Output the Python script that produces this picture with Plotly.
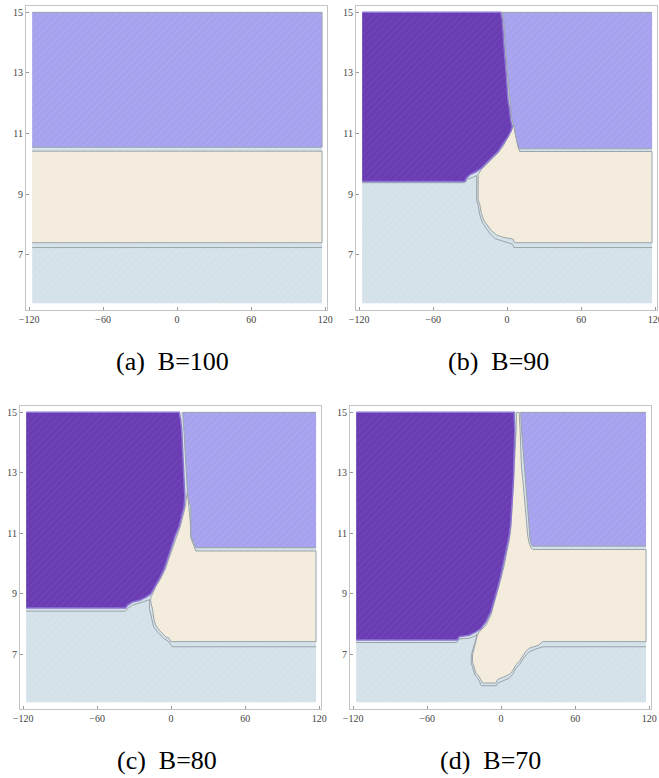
import plotly.graph_objects as go

# ---------------- data ----------------
X_MIN, X_MAX = -117.5, 117.5
Y_MIN, Y_MAX = 5.4, 15.0
X_TICKS = [-120, -60, 0, 60, 120]
Y_TICKS = [7, 9, 11, 13, 15]
CAPTIONS = ["(a)\u00a0\u00a0B=100", "(b)\u00a0\u00a0B=90", "(c)\u00a0\u00a0B=80", "(d)\u00a0\u00a0B=70"]

# panel (a) B=100
a_blue_top_x = [X_MIN, X_MAX]
a_blue_top_y = [7.24, 7.24]
a_beige_x = [X_MIN, X_MAX, X_MAX, X_MIN]
a_beige_y = [7.4, 7.4, 10.42, 10.42]
a_peri_x = [X_MIN, X_MAX, X_MAX, X_MIN]
a_peri_y = [10.55, 10.55, 15.0, 15.0]
a_purple_x = []
a_purple_y = []

# panel (b) B=90
b_purple_x = [X_MIN, -5.2, -3.9, -3.4, -2.3, -1.2, -0.1, 0.7, 2.0, 2.8, 4.2, 3.4, 0.7, -3.4,
              -7.4, -11.4, -16.8, -20.9, -24.9, -30.3, -33.0, -34.3, X_MIN]
b_purple_y = [15.0, 15.0, 14.75, 14.31, 13.76, 13.21, 12.66, 12.11, 11.78, 11.45, 11.23, 11.12,
              10.90, 10.63, 10.41, 10.25, 10.03, 9.86, 9.75, 9.64, 9.53, 9.42, 9.42]
b_peri_x = [X_MAX, -4.0, -2.8, -2.3, -1.2, -0.1, 1.0, 1.8, 3.0, 4.0, 5.5, 6.5, 7.4, 8.5, 9.5, X_MAX]
b_peri_y = [15.0, 15.0, 14.75, 14.31, 13.76, 13.21, 12.66, 12.11, 11.78, 11.45, 11.25, 11.0,
            10.79, 10.65, 10.5, 10.5]
b_beige_x = [5.3, 6.4, 7.4, 8.8, 10.1, X_MAX, X_MAX, 6.1, 4.7, -3.4, -8.7, -12.8, -16.8, -19.0,
             -20.9, -22.2, -23.5, -23.5, -20.9, -16.8, -11.4, -7.4, -3.4, 0.7, 3.4, 5.3]
b_beige_y = [11.32, 11.06, 10.79, 10.57, 10.41, 10.41, 7.4, 7.4, 7.52, 7.58, 7.66, 7.8, 8.02, 8.15,
             8.37, 8.68, 8.81, 9.64, 9.82, 9.99, 10.2, 10.36, 10.58, 10.86, 11.08, 11.32]
b_blue_top_x = [X_MIN, -34.5, -32.0, -28.0, -24.7, -24.7, -23.4, -22.2, -20.2, -18.0, -14.0,
                -9.5, -4.0, 4.5, 5.5, X_MAX]
b_blue_top_y = [9.38, 9.38, 9.5, 9.55, 9.62, 8.8, 8.62, 8.32, 8.08, 7.93, 7.7, 7.53, 7.45,
                7.35, 7.24, 7.24]

# panel (c) B=80
c_purple_x = [X_MIN, 6.5, 7.8, 8.6, 9.2, 10.0, 10.5, 11.1, 10.5, 9.2, 6.5, 3.2, -0.3, -3.0, -5.7,
              -9.7, -13.8, -16.5, -20.5, -26.0, -31.4, -35.5, -36.8, X_MIN]
c_purple_y = [15.0, 15.0, 14.73, 14.40, 13.85, 13.19, 12.43, 12.21, 11.88, 11.67, 11.23, 10.90,
              10.46, 10.14, 9.81, 9.48, 9.21, 8.99, 8.88, 8.77, 8.72, 8.61, 8.52, 8.52]
c_peri_x = [X_MAX, 9.4, 10.4, 11.2, 11.9, 12.5, 13.3, 14.6, 16.0, 16.0, 17.3, 18.7, 20.0, X_MAX]
c_peri_y = [15.0, 15.0, 14.40, 13.85, 13.30, 12.76, 12.32, 11.99, 11.9, 10.90, 10.79, 10.63,
            10.52, 10.52]
c_beige_x = [13.3, 14.6, 15.5, 16.0, 17.3, 18.7, 20.0, X_MAX, X_MAX, -0.3, -1.6, -4.3, -7.0,
             -9.7, -12.4, -13.8, -14.6, -15.1, -16.5, -16.5, -15.5, -12.8, -8.7, -4.7, -2.0,
             0.7, 4.2, 7.5, 10.2, 11.5, 12.5, 13.3]
c_beige_y = [12.35, 11.9, 11.4, 10.85, 10.7, 10.55, 10.41, 10.41, 7.41, 7.41, 7.52, 7.57, 7.68,
             7.79, 7.95, 8.12, 8.34, 8.50, 8.72, 8.88, 8.95, 9.21, 9.48, 9.81, 10.14, 10.46,
             10.9, 11.23, 11.67, 11.88, 12.2, 12.35]
c_blue_top_x = [X_MIN, -37.0, -35.5, -31.4, -26.0, -21.0, -17.6, -17.6, -16.4, -15.4, -14.2,
                -11.0, -8.5, -5.5, -2.5, 0.0, 1.0, X_MAX]
c_blue_top_y = [8.42, 8.42, 8.5, 8.62, 8.68, 8.75, 8.8, 8.5, 8.28, 8.08, 7.9, 7.73, 7.62,
                7.5, 7.43, 7.3, 7.24, 7.24]

# panel (d) B=70
d_purple_x = [X_MIN, 10.5, 11.1, 10.8, 10.5, 10.0, 9.2, 8.6, 7.8, 6.5, 4.3, 2.4, -0.3, -3.0,
              -5.7, -8.4, -12.4, -16.5, -20.5, -26.0, -34.1, -35.5, X_MIN]
d_purple_y = [15.0, 15.0, 14.40, 13.85, 13.30, 12.76, 12.21, 11.67, 11.34, 10.90, 10.46, 10.03,
              9.59, 9.15, 8.77, 8.39, 8.06, 7.84, 7.73, 7.62, 7.57, 7.46, 7.46]
d_peri_x = [X_MAX, 15.8, 16.6, 17.6, 18.7, 20.0, 20.5, 21.3, 22.2, 22.7, 23.5, 24.1, 25.4, X_MAX]
d_peri_y = [15.0, 15.0, 14.40, 13.85, 13.19, 12.54, 12.10, 11.67, 11.23, 11.01, 10.79, 10.68,
            10.57, 10.57]
d_beige_x = [12.4, 14.6, 15.4, 15.7, 16.5, 18.1, 18.9, 20.0, 20.8, 21.6, 22.7, 24.1, 26.0, X_MAX,
             X_MAX, 33.5, 30.8, 26.8, 22.7, 20.0, 17.3, 14.6, 11.9, 9.2, 6.5, 1.1, -3.0, -4.3,
             -15.1, -16.5, -17.8, -20.5, -21.9, -23.2, -23.2, -21.9, -20.5, -19.2, -17.8, -16.5,
             -12.4, -8.4, -5.7, -3.0, -0.3, 2.4, 4.6, 6.7, 8.0, 8.6, 9.5, 10.3, 11.1, 11.8, 12.2,
             12.4]
d_beige_y = [15.0, 15.0, 14.4, 13.74, 13.19, 12.54, 12.10, 11.67, 11.23, 10.9, 10.68, 10.52,
             10.46, 10.46, 7.41, 7.41, 7.30, 7.25, 7.19, 7.08, 6.92, 6.75, 6.64, 6.43, 6.32,
             6.21, 6.15, 6.04, 6.04, 6.15, 6.26, 6.37, 6.53, 6.75, 6.97, 7.19, 7.41, 7.63, 7.73,
             7.79, 7.95, 8.28, 8.66, 9.04, 9.48, 9.92, 10.35, 10.79, 11.23, 11.67, 12.21, 12.76,
             13.30, 13.9, 14.4, 15.0]
d_blue_top_x = [X_MIN, -36.0, -34.0, -26.0, -21.0, -19.6, -21.0, -22.6, -24.2, -24.2, -22.8,
                -21.2, -18.6, -17.0, -16.0, -4.0, -2.5, 1.0, 6.5, 9.5, 12.0, 15.0, 17.5, 20.5,
                23.0, 27.0, 31.0, 34.0, X_MAX]
d_blue_top_y = [7.38, 7.38, 7.5, 7.52, 7.6, 7.66, 7.4, 7.19, 6.97, 6.7, 6.5, 6.3, 6.18, 6.05,
                5.95, 5.95, 6.05, 6.1, 6.2, 6.33, 6.53, 6.66, 6.83, 6.98, 7.08, 7.15, 7.2, 7.24,
                7.24]

# ---------------- styling ----------------
C_BLUE = "#d4e1e9"
C_BEIGE = "#f3ebdb"
C_PERI = "#a7a2ee"
C_PURPLE = "#6a3cb3"
HATCH = {"blue": "#e2ebf0", "beige": "#f8f3e9", "peri": "#b8b4f2", "purple": "#7a52bd"}
C_EDGE = "#9aa4aa"
C_PURPLE_EDGE = "#8c74d2"
FRAME = "#c4c4c4"
FONT_TICK = dict(family="Liberation Serif", size=10, color="#444444")

panels = [
    dict(purple=(a_purple_x, a_purple_y), peri=(a_peri_x, a_peri_y), beige=(a_beige_x, a_beige_y),
         blue=(a_blue_top_x, a_blue_top_y)),
    dict(purple=(b_purple_x, b_purple_y), peri=(b_peri_x, b_peri_y), beige=(b_beige_x, b_beige_y),
         blue=(b_blue_top_x, b_blue_top_y)),
    dict(purple=(c_purple_x, c_purple_y), peri=(c_peri_x, c_peri_y), beige=(c_beige_x, c_beige_y),
         blue=(c_blue_top_x, c_blue_top_y)),
    dict(purple=(d_purple_x, d_purple_y), peri=(d_peri_x, d_peri_y), beige=(d_beige_x, d_beige_y),
         blue=(d_blue_top_x, d_blue_top_y)),
]

W, H = 659, 778
# frame boxes in pixels: (left, right, top, bottom)
boxes = [(26, 327, 6, 310), (356, 657, 6, 310), (20, 321, 406, 709), (350, 651, 406, 709)]
caption_pos = [(172, 361), (498, 361), (167, 760), (491, 760)]


def pattern(fc, fg):
    return dict(shape="/", bgcolor=fc, fgcolor=fg, size=5, solidity=0.18)


fig = go.Figure()
layout = dict(width=W, height=H, margin=dict(l=0, r=0, t=0, b=0, autoexpand=False),
              paper_bgcolor="white", plot_bgcolor="white", showlegend=False)

for i, p in enumerate(panels):
    n = "" if i == 0 else str(i + 1)
    xa, ya = "x" + n, "y" + n
    # lowest region
    fig.add_trace(go.Scatter(x=[X_MIN, X_MAX, X_MAX, X_MIN, X_MIN], y=[Y_MIN, Y_MIN, Y_MAX, Y_MAX, Y_MIN],
                             fill="toself", fillcolor=C_BLUE, fillpattern=pattern(C_BLUE, HATCH["blue"]),
                             mode="lines", line=dict(width=0),
                             hoverinfo="skip", xaxis=xa, yaxis=ya))
    bx, by = p["blue"]
    fig.add_trace(go.Scatter(x=bx, y=by, mode="lines", line=dict(color=C_EDGE, width=1),
                             hoverinfo="skip", xaxis=xa, yaxis=ya))
    for key, fc, lc, lw in [("beige", C_BEIGE, C_EDGE, 1), ("peri", C_PERI, C_EDGE, 1),
                            ("purple", C_PURPLE, C_PURPLE_EDGE, 1.5)]:
        px_, py_ = p[key]
        if len(px_) == 0:
            continue
        fig.add_trace(go.Scatter(x=px_, y=py_, fill="toself", fillcolor=fc,
                                 fillpattern=pattern(fc, HATCH[key]), mode="lines",
                                 line=dict(color=lc, width=lw), hoverinfo="skip",
                                 xaxis=xa, yaxis=ya))
    l, r, t, b = boxes[i]
    axx = dict(domain=[l / W, r / W], range=[-122.5, 121.5], tickvals=X_TICKS,
               ticks="inside", ticklen=3, tickcolor="#999999", tickfont=FONT_TICK,
               ticklabeloverflow="allow",
               showgrid=False, zeroline=False, showline=True, mirror=True, automargin=False,
               linecolor=FRAME, linewidth=1, anchor=ya)
    axy = dict(domain=[1 - b / H, 1 - t / H], range=[5.18, 15.21], tickvals=Y_TICKS,
               ticks="inside", ticklen=3, tickcolor="#999999", tickfont=FONT_TICK,
               ticklabeloverflow="allow",
               showgrid=False, zeroline=False, showline=True, mirror=True, automargin=False,
               linecolor=FRAME, linewidth=1, anchor=xa)
    layout["xaxis" + n] = axx
    layout["yaxis" + n] = axy

annotations = []
for (cx, cy), txt in zip(caption_pos, CAPTIONS):
    annotations.append(dict(text=txt, x=cx / W, y=1 - cy / H, xref="paper", yref="paper",
                            xanchor="center", yanchor="middle", showarrow=False,
                            font=dict(family="Liberation Serif", size=26, color="black")))
layout["annotations"] = annotations
fig.update_layout(**layout)

fig.write_html("out.html", config={"displayModeBar": False},
               post_script="document.body.style.margin='0';document.body.style.overflow='hidden';")
